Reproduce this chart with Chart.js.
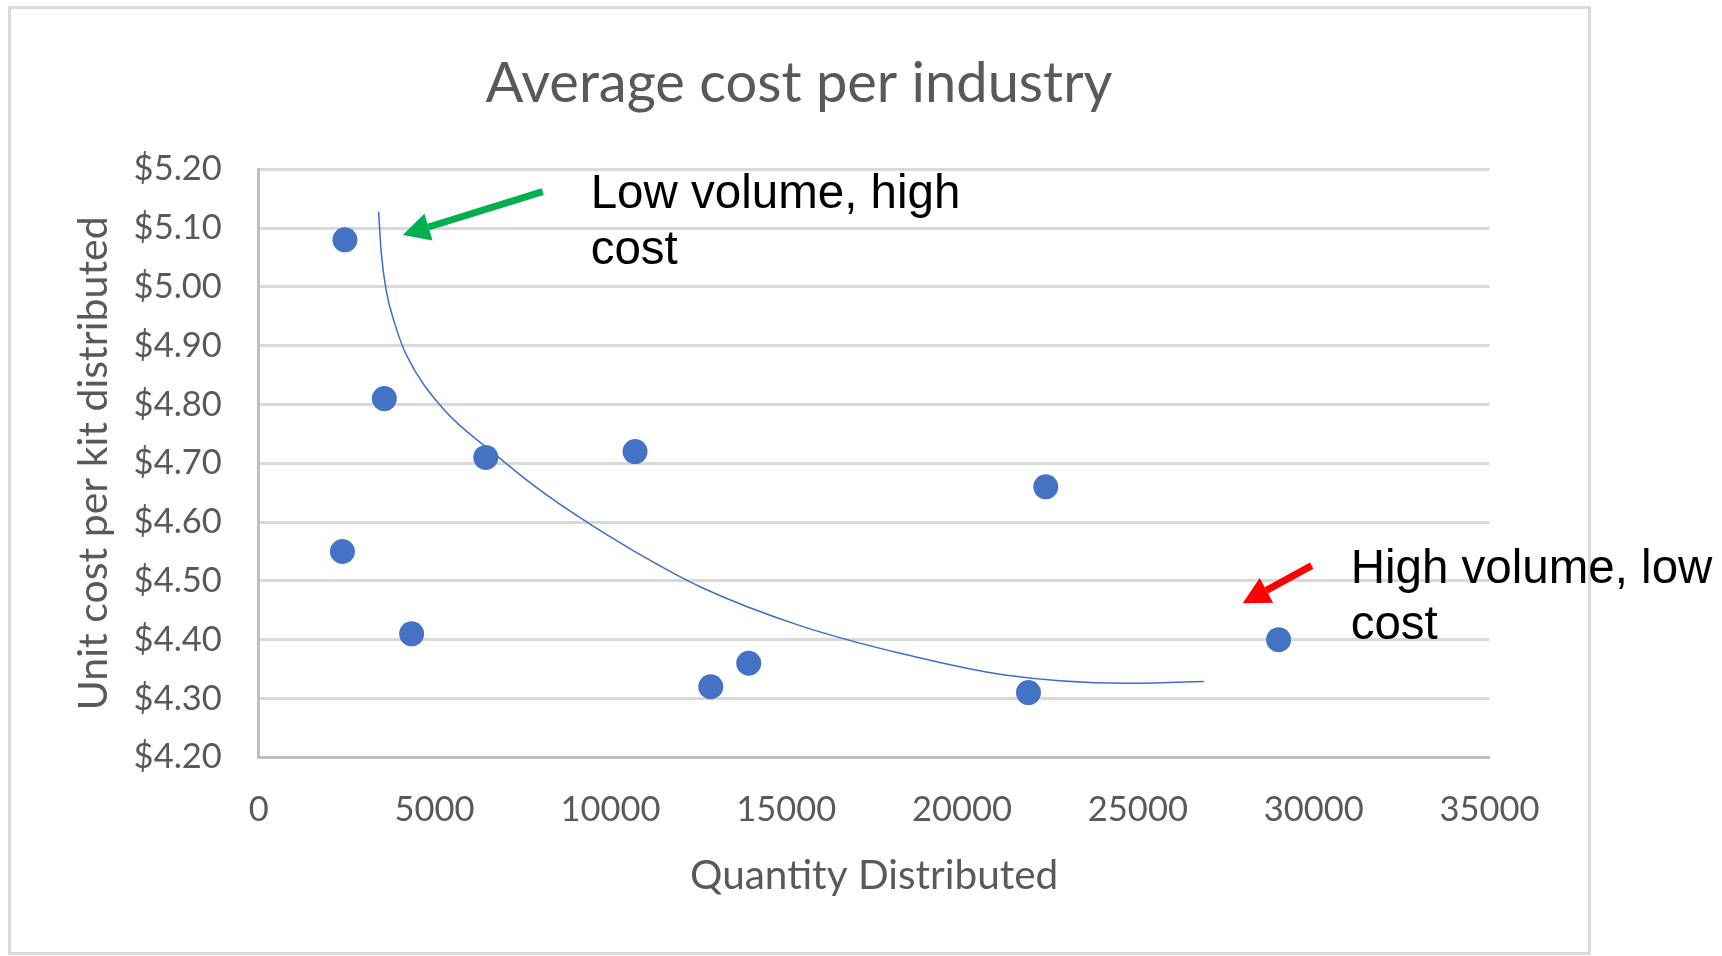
<!DOCTYPE html>
<html>
<head>
<meta charset="utf-8">
<title>Average cost per industry</title>
<script src="https://cdn.jsdelivr.net/npm/chart.js@4.4.1/dist/chart.umd.min.js"></script>
<style>
  html, body { margin: 0; padding: 0; background: #ffffff; overflow: hidden; }
  #wrap { width: 1722px; height: 956px; position: relative; }
</style>
</head>
<body>
<div id="wrap"><canvas id="chart" width="1722" height="956"></canvas></div>
<script>
// Industries: kits distributed and average unit cost per kit
const quantity = [2450, 3570, 6456, 10700, 22381, 2378, 4346, 12853, 13934, 21889, 29002];
const unitCost = [5.08, 4.81, 4.71, 4.72, 4.66, 4.55, 4.41, 4.32, 4.36, 4.31, 4.40];

// Hand-drawn trend curve, traced through the data space
const trendQuantity = [3407, 3480, 3620, 3880, 4200, 5224, 6749, 7893, 9070, 10720, 12625, 15392, 18236, 21211, 24641, 26876];
const trendCost = [5.128, 5.060, 4.995, 4.935, 4.884, 4.794, 4.714, 4.659, 4.610, 4.549, 4.488, 4.424, 4.377, 4.340, 4.326, 4.329];

// Axis tick labels
const xTickLabels = ['0', '5000', '10000', '15000', '20000', '25000', '30000', '35000'];
const yTickLabels = ['$4.20', '$4.30', '$4.40', '$4.50', '$4.60', '$4.70', '$4.80', '$4.90', '$5.00', '$5.10', '$5.20'];

const chartTitle = 'Average cost per industry';
const xAxisTitle = 'Quantity Distributed';
const yAxisTitle = 'Unit cost per kit distributed';

// Callout notes and arrows, anchored in data units
const callouts = [
  { lines: ['Low volume, high', 'cost'], at: [9439, 5.1337] },
  { lines: ['High volume, low', 'cost'], at: [31052, 4.4959] }
];
const arrows = [
  { from: [8074, 5.1619], to: [4092, 5.0883], color: '#00B050' },
  { from: [29943, 4.5259], to: [27981, 4.4619], color: '#FF0000' }
];

const GREY_TEXT = '#595959';
const EXCEL_FONT = 'Lato, "Open Sans", sans-serif';

const toPoints = (xs, ys) => xs.map((x, i) => ({ x: x, y: ys[i] }));

// Outer frame, chart title, callout text and arrows
const decorations = {
  id: 'decorations',
  beforeDraw(chart) {
    const ctx = chart.ctx;
    ctx.save();
    ctx.fillStyle = '#ffffff';
    ctx.fillRect(0, 0, chart.width, chart.height);
    ctx.strokeStyle = '#D9D9D9';
    ctx.lineWidth = 3;
    ctx.strokeRect(9.5, 7.5, 1580, 946);
    ctx.fillStyle = GREY_TEXT;
    ctx.font = '56px ' + EXCEL_FONT;
    ctx.textAlign = 'center';
    ctx.textBaseline = 'middle';
    ctx.fillText(chartTitle, 799, 84);
    ctx.restore();
  },
  afterDraw(chart) {
    const ctx = chart.ctx;
    const xs = chart.scales.x, ys = chart.scales.y;
    ctx.save();
    ctx.fillStyle = '#000000';
    ctx.font = '47.5px "Liberation Sans", Arial, sans-serif';
    ctx.textAlign = 'left';
    ctx.textBaseline = 'alphabetic';
    callouts.forEach(c => {
      const px = xs.getPixelForValue(c.at[0]);
      const py = ys.getPixelForValue(c.at[1]);
      c.lines.forEach((line, i) => ctx.fillText(line, px, py + i * 56));
    });
    arrows.forEach(a => {
      const x1 = xs.getPixelForValue(a.from[0]), y1 = ys.getPixelForValue(a.from[1]);
      const x2 = xs.getPixelForValue(a.to[0]), y2 = ys.getPixelForValue(a.to[1]);
      const ang = Math.atan2(y2 - y1, x2 - x1);
      const headLen = 27, headHalf = 14;
      const bx = x2 - headLen * Math.cos(ang), by = y2 - headLen * Math.sin(ang);
      ctx.strokeStyle = a.color;
      ctx.fillStyle = a.color;
      ctx.lineWidth = 7;
      ctx.lineCap = 'butt';
      ctx.beginPath();
      ctx.moveTo(x1, y1);
      ctx.lineTo(bx, by);
      ctx.stroke();
      ctx.beginPath();
      ctx.moveTo(x2, y2);
      ctx.lineTo(bx + headHalf * Math.sin(ang), by - headHalf * Math.cos(ang));
      ctx.lineTo(bx - headHalf * Math.sin(ang), by + headHalf * Math.cos(ang));
      ctx.closePath();
      ctx.fill();
    });
    ctx.restore();
  }
};

new Chart(document.getElementById('chart'), {
  type: 'scatter',
  data: {
    datasets: [
      {
        label: 'Unit cost',
        data: toPoints(quantity, unitCost),
        backgroundColor: '#4472C4',
        borderWidth: 0,
        pointRadius: 12.5,
        pointHoverRadius: 12.5,
        order: 1
      },
      {
        label: 'Trend',
        type: 'line',
        data: toPoints(trendQuantity, trendCost),
        borderColor: '#3F6DCB',
        borderWidth: 1.5,
        pointRadius: 0,
        fill: false,
        cubicInterpolationMode: 'monotone',
        order: 2
      }
    ]
  },
  options: {
    responsive: false,
    animation: false,
    devicePixelRatio: 1,
    events: [],
    layout: { padding: { left: 0, top: 169.3, right: 232.5, bottom: 0 } },
    plugins: {
      legend: { display: false },
      tooltip: { enabled: false },
      title: { display: false }
    },
    scales: {
      x: {
        type: 'linear',
        min: 0,
        max: 35000,
        afterBuildTicks: s => { s.ticks = xTickLabels.map(l => ({ value: parseFloat(l) })); },
        afterFit: s => { s.height = 956 - 757.3; },
        grid: { display: false, drawTicks: false },
        border: { display: true, color: '#BFBFBF', width: 3 },
        ticks: {
          autoSkip: false,
          maxRotation: 0,
          padding: 32,
          color: GREY_TEXT,
          font: { family: EXCEL_FONT, size: 34.5 },
          callback: (v, i) => xTickLabels[i]
        },
        title: {
          display: true,
          text: xAxisTitle,
          color: GREY_TEXT,
          font: { family: EXCEL_FONT, size: 40.5 },
          padding: { top: 0, bottom: 56 }
        }
      },
      y: {
        type: 'linear',
        min: 4.2,
        max: 5.2,
        afterBuildTicks: s => { s.ticks = yTickLabels.map(l => ({ value: parseFloat(l.slice(1)) })); },
        afterFit: s => { s.width = 258.8; },
        grid: { color: '#D9D9D9', lineWidth: 3, drawTicks: false },
        border: { display: true, color: '#BFBFBF', width: 3 },
        ticks: {
          autoSkip: false,
          padding: 37,
          color: GREY_TEXT,
          font: { family: EXCEL_FONT, size: 34.5 },
          callback: (v, i) => yTickLabels[i]
        },
        title: {
          display: true,
          text: yAxisTitle,
          color: GREY_TEXT,
          font: { family: EXCEL_FONT, size: 41 },
          padding: { top: 69, bottom: 0 }
        }
      }
    }
  },
  plugins: [decorations]
});
</script>
</body>
</html>
